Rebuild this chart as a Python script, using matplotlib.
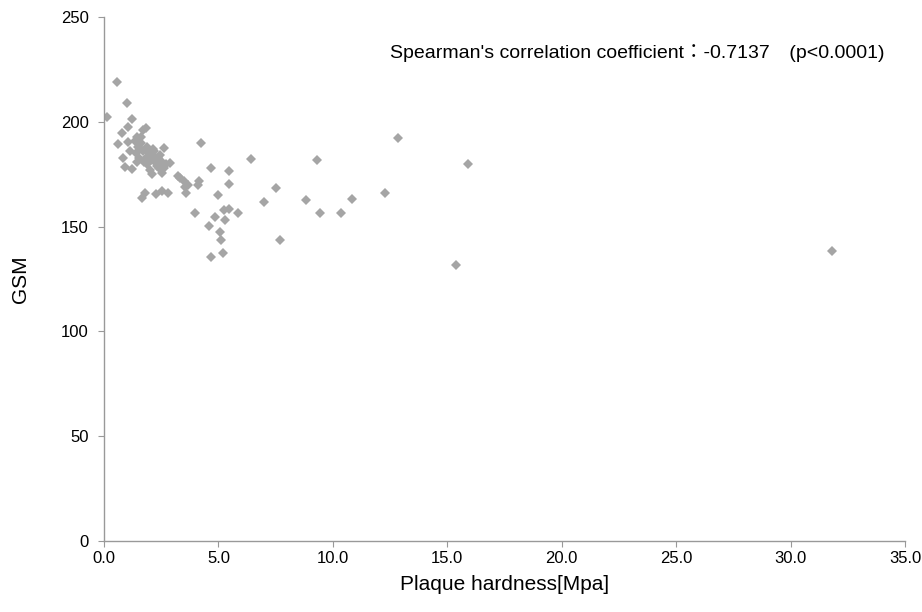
import matplotlib
matplotlib.use('Agg')
import matplotlib.pyplot as plt

plt.rcParams['font.family'] = ['Liberation Sans', 'Noto Sans CJK JP', 'DejaVu Sans']

# plaque hardness (MPa) and GSM
hardness = [0.12, 0.58, 1.02, 1.21, 1.06, 0.77, 1.43, 1.72, 1.85, 0.63, 1.06,
            1.5, 1.6, 1.15, 0.84, 0.92, 1.24, 1.38, 1.55, 1.7, 1.82, 1.95,
            2.05, 2.15, 2.25, 2.35, 2.45, 2.55, 2.63, 2.7, 2.01, 2.1, 2.3,
            2.52, 2.88, 1.75, 1.9, 2.2, 2.4, 1.79, 1.64, 2.27, 2.52, 2.81,
            3.22, 3.32, 3.5, 3.54, 3.68, 3.57, 4.12, 4.14, 4.24, 4.67, 5.48,
            5.45, 4.99, 3.98, 5.24, 5.46, 5.85, 4.83, 5.3, 4.57, 5.05, 5.11,
            5.18, 4.66, 6.42, 7.0, 7.5, 7.69, 8.82, 9.3, 9.44, 10.34, 10.83,
            12.26, 12.85, 15.4, 15.9, 31.8,
            1.35, 1.6, 1.9, 2.15, 2.45, 1.45, 2.0, 2.6]
gsm = [202.5, 219, 209, 201.5, 197.5, 194.5, 193, 196, 197, 189.5, 190.5,
       188, 190, 186, 183, 178.5, 177.5, 185, 183, 186, 183, 185,
       182, 184, 181, 183, 180, 181, 187.5, 180, 177, 175, 179,
       175.5, 180.5, 181, 180, 186, 178, 166, 163.5, 165.5, 167, 166,
       174, 173, 172, 169, 170, 166, 170, 172, 190, 178, 176.5,
       170.5, 165, 156.5, 158, 158.5, 156.5, 154.5, 153, 150.5, 147.5, 143.5,
       137.5, 135.5, 182.5, 162, 168.5, 143.5, 162.5, 182, 156.5, 156.5, 163,
       166, 192.5, 131.5, 180, 138.5,
       191, 193, 188, 187, 184, 181, 182, 178]

x_ticks = [0, 5, 10, 15, 20, 25, 30, 35]
y_ticks = [0, 50, 100, 150, 200, 250]
note = "Spearman's correlation coefficient\uff1a-0.7137\u3000(p<0.0001)"

fig = plt.figure(figsize=(9.22, 6.12), dpi=100)
ax = fig.add_axes([0.1128, 0.116, 0.8688, 0.856])

ax.plot(hardness, gsm, ls='none', marker='D', ms=5.5, color='#a5a5a5',
        markeredgewidth=0)

ax.set_xlim(0, 35)
ax.set_ylim(0, 250)
ax.set_xticks(x_ticks)
ax.set_xticklabels(['%.1f' % t for t in x_ticks])
ax.set_yticks(y_ticks)

for s in ['top', 'right']:
    ax.spines[s].set_visible(False)
for s in ['left', 'bottom']:
    ax.spines[s].set_color('#999999')
    ax.spines[s].set_linewidth(1.0)
ax.tick_params(direction='out', length=4, color='#999999', labelsize=12,
               labelcolor='black')
ax.tick_params(axis='x', pad=3)
ax.tick_params(axis='y', pad=7)

ax.set_xlabel('Plaque hardness[Mpa]', fontsize=15, labelpad=7)
ax.set_ylabel('GSM', fontsize=15, labelpad=22)

ax.text(12.5, 233, note, fontsize=14, va='center', ha='left')

fig.savefig('out.png', dpi=100)
